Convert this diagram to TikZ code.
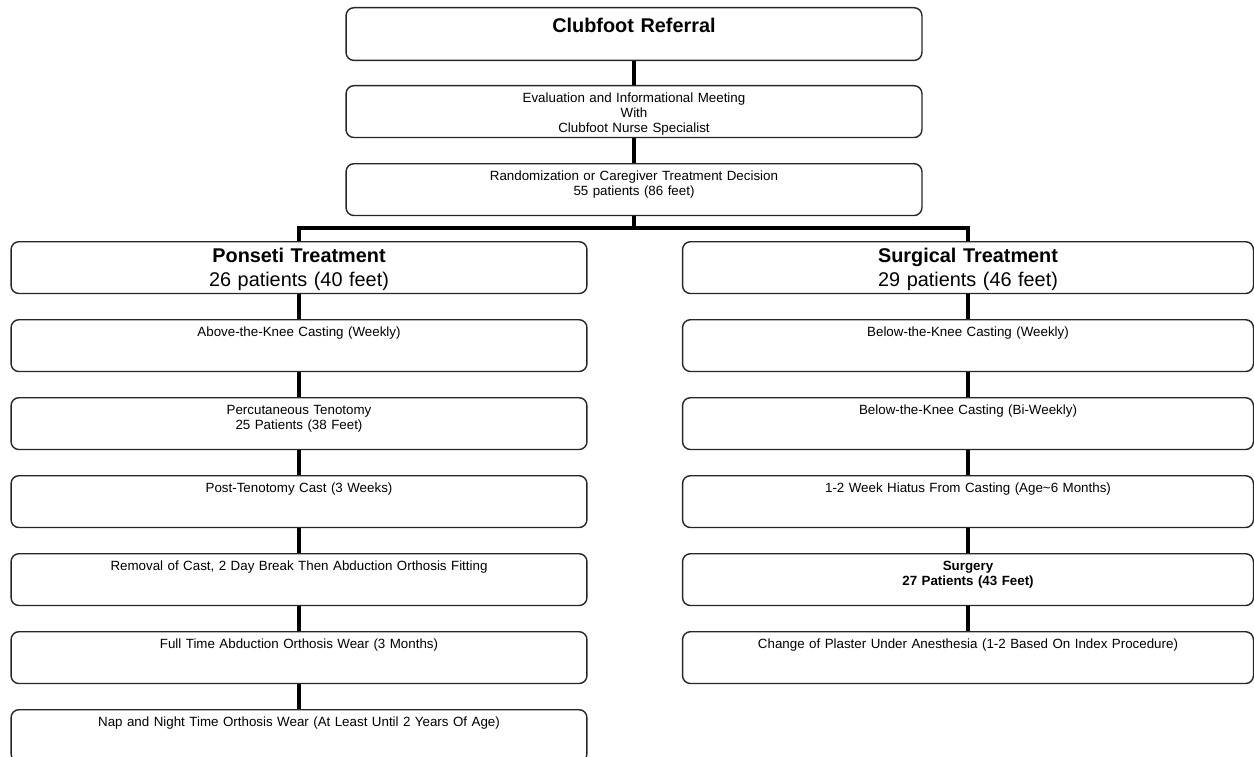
\documentclass[tikz,border=0pt]{standalone}
\usepackage{fontspec}
\setmainfont{Liberation Sans}
\usetikzlibrary{positioning,calc}

\begin{document}
\begin{tikzpicture}[x=0.02cm, y=-0.02cm,
  stepbox/.style={draw=black!85, line width=0.8pt, rounded corners=4.5pt, anchor=north,
    minimum width=11.52cm, text width=11cm, align=center, inner xsep=4pt, inner ysep=0pt,
    font=\fontsize{7.6pt}{8.5pt}\selectfont, text height=9.6pt, text depth=19.9pt},
  headbox/.style={stepbox, font=\fontsize{11.3pt}{13.2pt}\selectfont, text height=12.1pt, text depth=17.4pt},
  flowline/.style={line width=1.9pt, black}]

\useasboundingbox (0,0) rectangle (1254,757);

% === TOP: Referral and Decision ===
\node[headbox, font=\bfseries\fontsize{11.3pt}{12pt}\selectfont, text height=14.2pt, text depth=15.8pt] (referral) at (634,7) {Clubfoot Referral};
\node[stepbox] (meeting) at (634,85) {Evaluation and Informational Meeting\\With\\Clubfoot Nurse Specialist};
\node[stepbox] (decision) at (634,163) {Randomization or Caregiver Treatment Decision\\55 patients (86 feet)};

\draw[flowline] (referral) -- (meeting);
\draw[flowline] (meeting) -- (decision);

% === LEFT COLUMN: Ponseti ===
\node[headbox] (ponseti) at (299,241) {\textbf{Ponseti Treatment}\\26 patients (40 feet)};
\node[stepbox] (aboveknee) at (299,319) {Above-the-Knee Casting (Weekly)};
\node[stepbox] (tenotomy) at (299,397) {Percutaneous Tenotomy\\25 Patients (38 Feet)};
\node[stepbox] (postcast) at (299,475) {Post-Tenotomy Cast (3 Weeks)};
\node[stepbox] (removal) at (299,553) {Removal of Cast, 2 Day Break Then Abduction Orthosis Fitting};
\node[stepbox] (fulltime) at (299,631) {Full Time Abduction Orthosis Wear (3 Months)};
\node[stepbox] (napnight) at (299,709) {Nap and Night Time Orthosis Wear (At Least Until 2 Years Of Age)};

% === RIGHT COLUMN: Surgical ===
\node[headbox, minimum width=11.42cm] (surgical) at (968,241) {\textbf{Surgical Treatment}\\29 patients (46 feet)};
\node[stepbox, minimum width=11.42cm] (belowweekly) at (968,319) {Below-the-Knee Casting (Weekly)};
\node[stepbox, minimum width=11.42cm] (belowbiweekly) at (968,397) {Below-the-Knee Casting (Bi-Weekly)};
\node[stepbox, minimum width=11.42cm] (hiatus) at (968,475) {1-2 Week Hiatus From Casting (Age\textasciitilde6 Months)};
\node[stepbox, minimum width=11.42cm, font=\bfseries\fontsize{7.6pt}{8.5pt}\selectfont] (surgery) at (968,553) {Surgery\\27 Patients (43 Feet)};
\node[stepbox, minimum width=11.42cm] (plaster) at (968,631) {Change of Plaster Under Anesthesia (1-2 Based On Index Procedure)};

% === SPLIT ===
\coordinate (split) at (634,228);
\draw[flowline] (decision) -- (split);
\draw[flowline] (ponseti.north) |- (split) -| (surgical.north);

% column links
\draw[flowline] (ponseti) -- (aboveknee);
\draw[flowline] (aboveknee) -- (tenotomy);
\draw[flowline] (tenotomy) -- (postcast);
\draw[flowline] (postcast) -- (removal);
\draw[flowline] (removal) -- (fulltime);
\draw[flowline] (fulltime) -- (napnight);

\draw[flowline] (surgical) -- (belowweekly);
\draw[flowline] (belowweekly) -- (belowbiweekly);
\draw[flowline] (belowbiweekly) -- (hiatus);
\draw[flowline] (hiatus) -- (surgery);
\draw[flowline] (surgery) -- (plaster);

\end{tikzpicture}
\end{document}
